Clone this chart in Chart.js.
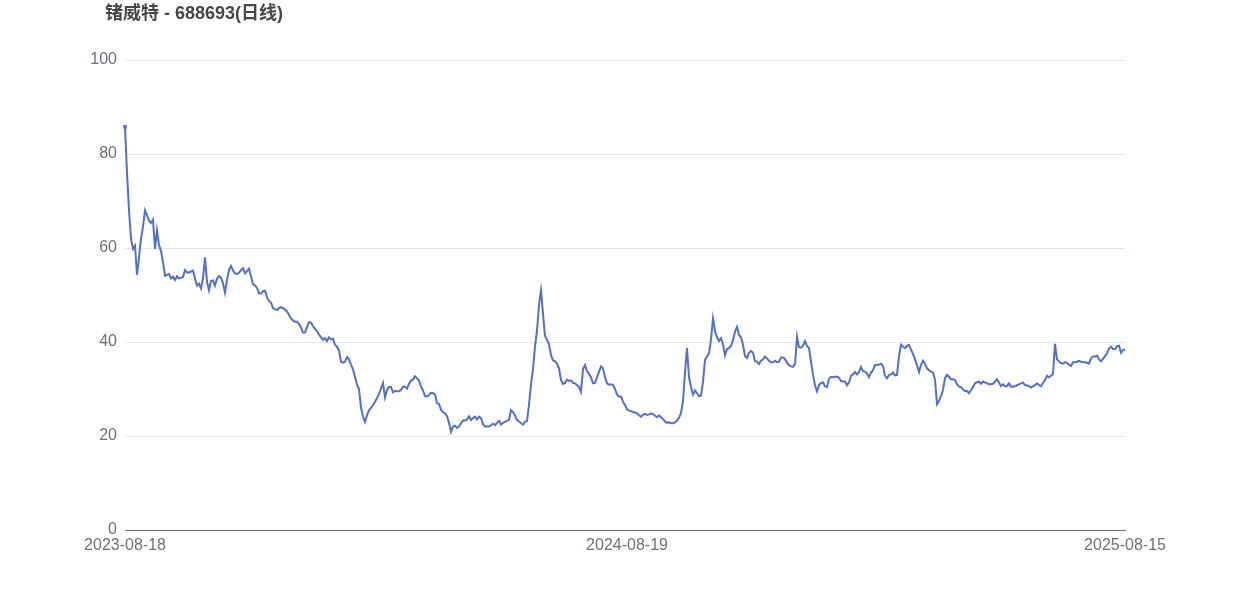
<!DOCTYPE html>
<html>
<head>
<meta charset="utf-8">
<script src="https://cdn.jsdelivr.net/npm/chart.js@4/dist/chart.umd.min.js"></script>
<style>
  html, body { margin: 0; padding: 0; background: #fff; }
  #wrap { width: 1250px; height: 600px; }
</style>
</head>
<body>
<div id="wrap"><canvas id="myChart" width="1250" height="600"></canvas></div>
<script>
const chartTitle = '锗威特 - 688693(日线)';
const tickLabels = ['2023-08-18', '2024-08-19', '2025-08-15'];
const tickIndex = [0, 251, 500];
const yTicks = [0, 20, 40, 60, 80, 100];

// daily close (2023-08 .. 2024-01)
const close1 = [
  85.8, 76, 68, 62, 59.8, 60.5, 54.3, 58, 62, 64.5, 68, 67, 65.8, 65.3, 66, 59.8,
  63.8, 60.6, 59.4, 57, 54.1, 54.3, 54.5, 53.5, 53.9, 53.2, 54, 53.5, 53.7, 53.8,
  55.3, 54.8, 54.8, 55, 55.2, 53.5, 52, 52.4, 51.4, 53.5, 58, 52.8, 51, 53, 53.1,
  52, 53.5, 54, 53.7, 52.5, 50.5, 53.2, 55.3, 56.2, 55.2, 54.6, 54.5, 54.7, 55.3,
  55.7, 54.6, 55.1, 55.6, 54, 52.3, 52, 51.5, 50.3, 50.3, 50.8, 50.9, 49.5, 48.7,
  48.4, 47.2, 47, 46.8, 47.2, 47.4, 47.2, 46.9, 46.5, 45.8
];
// 2024-01 .. 2024-05
const close2 = [
  45, 44.6, 44.3, 44.3, 43.8, 43.1, 42, 42, 43.2, 44.2, 44.1, 43.4, 42.8, 42.3,
  41.6, 41, 40.5, 40.8, 40.2, 41, 40.6, 40.7, 39.4, 39, 38.1, 35.8, 35.6, 35.8,
  36.8, 36.3, 35.2, 34.2, 32.6, 30.9, 30, 26, 24.1, 23, 24.4, 25.5, 26, 26.6, 27.3,
  28.1, 28.9, 30.1, 31.3, 28.2, 29.8, 30.4, 30.4, 29.3, 29.6, 29.5, 29.5, 29.8,
  30.5, 30.5, 30.1, 31.1, 31.8, 32, 32.7, 32.3, 31.8, 30.5, 29.7, 28.5, 28.4, 28.7,
  29.2, 29.1, 28.8, 27, 26.8, 25.6, 25.1, 24.8, 24.2, 22.8, 20.9, 22, 22.2
];
// 2024-05 .. 2024-08
const close3 = [
  21.7, 22, 22.7, 23.3, 23.3, 23.5, 24.2, 23.4, 23.8, 24.1, 23.5, 24.1, 23.8, 22.5,
  22, 22, 22, 22.3, 22.6, 22.3, 22.8, 23.2, 22.4, 22.8, 23, 23.2, 23.5, 25.5, 25.1,
  24.4, 23.4, 23.1, 22.7, 22.4, 23, 23.2, 26.6, 31, 34.2, 39, 42.4, 48, 51, 46,
  41.3, 40.5, 39.5, 37.2, 36.1, 35.9, 35.4, 34.4, 31.9, 31.1, 31.3, 32, 31.7, 31.8,
  31.3, 31.2, 30.8, 30.4, 29.4, 34.2, 35.1, 33.8, 33.2, 32.5, 31.2, 31.3, 32.5,
  33.7, 34.8, 34.4, 32.5, 31.2, 30.9, 31, 30.9, 30, 28.8, 28.4
];
// 2024-08 .. 2025-01
const close4 = [
  28.4, 27.3, 26.6, 25.7, 25.4, 25.3, 25.1, 25, 24.8, 24.4, 24.1, 24.5, 24.7, 24.5,
  24.6, 24.8, 24.7, 24.3, 24, 24.4, 24, 23.6, 23.1, 22.8, 22.9, 22.7, 22.7, 22.9,
  23.3, 23.9, 24.9, 27.4, 33.5, 38.7, 32.5, 30.5, 28.8, 29.7, 29.1, 28.5, 28.6,
  31.5, 36.2, 36.9, 37.6, 40.5, 45, 42.3, 41, 40.2, 40.8, 39.5, 37.2, 38.5, 38.7,
  39.2, 40.4, 42.2, 43.2, 41.5, 41, 39.4, 37, 36.6, 37.7, 38.1, 37.7, 35.9, 35.8,
  35.3, 36, 36.3, 36.9, 36.5, 36, 35.7, 35.7, 36, 35.7, 35.8, 36.7, 36.7, 36.4
];
// 2025-01 .. 2025-04
const close5 = [
  35.6, 35.1, 34.8, 34.7, 35.3, 41.1, 38.9, 38.8, 39.2, 40.2, 39.1, 38.7, 35.8, 33,
  30.8, 29.5, 30.8, 31.3, 31.4, 30.6, 30.4, 32.1, 32.6, 32.5, 32.6, 32.6, 32.4,
  31.7, 31.6, 31.6, 30.8, 31.4, 32.8, 33.1, 33.6, 33.1, 33.6, 34.7, 33.8, 33.7,
  33.3, 32.5, 33.5, 34, 35.1, 35.1, 35.2, 35.4, 34.9, 32.8, 32.3, 33, 33.1, 33.5,
  32.9, 33, 37, 39.4, 39, 38.7, 39.2, 39.4, 38.4, 37.4, 36.3, 35, 33.6, 35.1, 36,
  35.4, 34.4, 34, 33.7, 33.5, 32, 26.8, 27.5, 28.5, 29.8, 32.3, 33, 32.6
];
// 2025-04 .. 2025-08-15
const close6 = [
  32.1, 32.1, 31.9, 31, 30.5, 30.4, 29.9, 29.6, 29.6, 29.1, 29.8, 30.4, 31.2, 31.4,
  31.6, 31.1, 31.6, 31.4, 31.2, 31, 31, 31.1, 31.6, 32.1, 31.4, 30.6, 31, 30.6,
  30.6, 31.2, 30.5, 30.5, 30.6, 30.8, 31, 31.2, 31.4, 30.8, 30.8, 30.6, 30.3, 30.6,
  30.8, 31.2, 30.8, 30.6, 31.3, 31.9, 32.8, 32.5, 32.8, 33.2, 39.6, 36.3, 35.9,
  35.5, 35.4, 35.7, 35.6, 35.1, 34.9, 35.7, 35.7, 35.8, 36, 35.8, 35.7, 35.7, 35.6,
  35.4, 36.5, 36.9, 36.9, 37.1, 36.3, 35.9, 36.4, 37, 37.6, 38.6, 39, 38.5, 38.5,
  39.1, 39.2, 37.7, 38.3, 38.4
];

const closes = [...close1, ...close2, ...close3, ...close4, ...close5, ...close6];
const labels = closes.map((_, i) => i);

const titlePlugin = {
  id: 'leftTitle',
  afterDraw(chart) {
    const ctx = chart.ctx;
    ctx.save();
    ctx.font = "bold 18px 'Liberation Sans', 'Noto Sans CJK SC', sans-serif";
    ctx.fillStyle = '#464646';
    ctx.textBaseline = 'top';
    ctx.textAlign = 'left';
    ctx.fillText(chartTitle, 105, 5);
    ctx.restore();
  }
};

Chart.defaults.font.family = "'Liberation Sans', 'Noto Sans CJK SC', sans-serif";
Chart.defaults.font.size = 16;
Chart.defaults.color = '#6E7079';

const ctx = document.getElementById('myChart').getContext('2d');
const myChart = new Chart(ctx, {
  type: 'line',
  data: {
    labels,
    datasets: [{
      data: closes,
      borderColor: '#5470C6',
      backgroundColor: '#5470C6',
      borderWidth: 2,
      tension: 0,
      pointStyle: 'rect',
      pointRadius: (c) => (c.dataIndex === 0 ? 2.5 : 0),
      pointBorderWidth: 0
    }]
  },
  options: {
    responsive: false,
    animation: false,
    events: [],
    layout: { padding: { left: 0, right: 125, top: 60, bottom: 0 } },
    plugins: {
      legend: { display: false },
      tooltip: { enabled: false },
      title: { display: false }
    },
    scales: {
      x: {
        type: 'category',
        offset: false,
        grid: { display: false, drawTicks: false },
        border: { display: true, color: '#6E7079', width: 1 },
        afterBuildTicks(scale) {
          scale.ticks = tickIndex.map((v) => ({ value: v }));
        },
        afterFit(scale) { scale.height = 70; },
        ticks: {
          autoSkip: false,
          maxRotation: 0,
          padding: 6,
          callback(value, index) { return tickLabels[index]; }
        }
      },
      y: {
        min: 0,
        max: 100,
        afterBuildTicks(scale) {
          scale.ticks = yTicks.map((v) => ({ value: v }));
        },
        afterFit(scale) { scale.width = 125; },
        grid: {
          drawTicks: false,
          color: (c) => (c.tick && c.tick.value === 0 ? 'rgba(0,0,0,0)' : '#E0E6F1')
        },
        border: { display: false },
        ticks: { padding: 8 }
      }
    }
  },
  plugins: [titlePlugin]
});
</script>
</body>
</html>
